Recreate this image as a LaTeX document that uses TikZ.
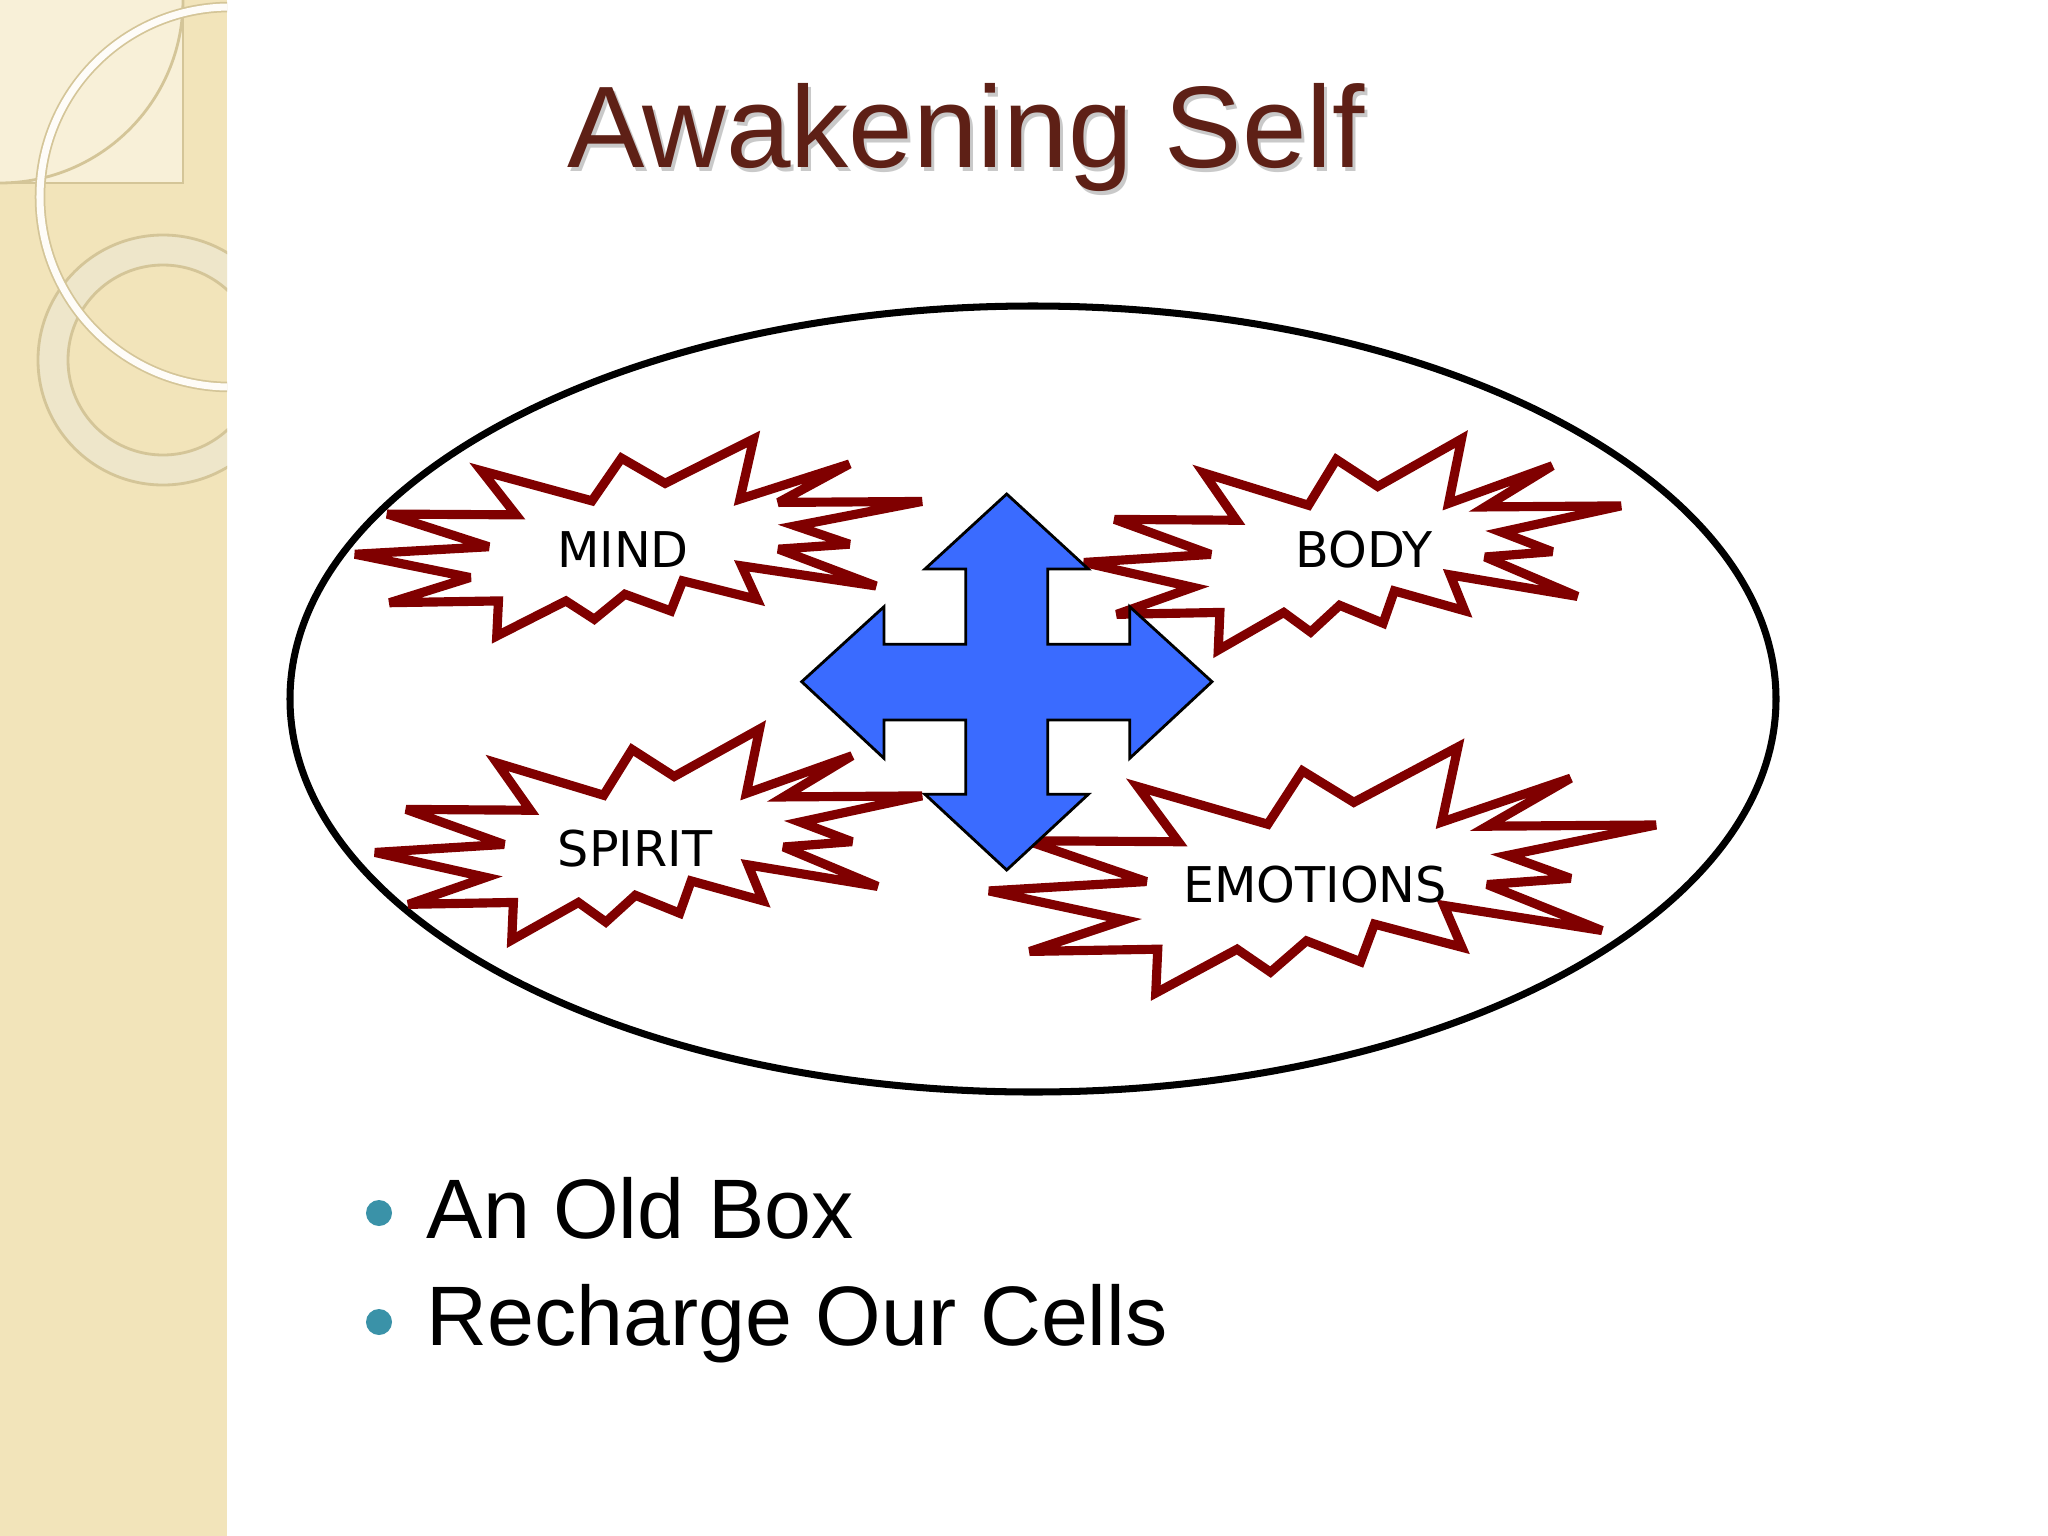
\documentclass[tikz,border=0pt]{standalone}
\usepackage{fontspec}
\setmainfont{Liberation Sans}
\newfontfamily\comicfont{DejaVu Sans}

\definecolor{titlered}{RGB}{94,32,22}
\definecolor{burstred}{RGB}{128,0,0}
\definecolor{arrowblue}{RGB}{58,107,255}
\definecolor{bulletteal}{RGB}{58,146,168}
\definecolor{stripbeige}{RGB}{242,228,186}
\definecolor{stripedge}{RGB}{212,197,152}
\definecolor{squarelight}{RGB}{248,240,216}
\definecolor{ringlight}{RGB}{238,230,202}

\tikzstyle{burst}=[draw=burstred,fill=white,line width=2.6pt,line join=miter,miter limit=4]
\tikzstyle{word}=[font=\comicfont\fontsize{14}{16}\selectfont,inner sep=0pt]
\tikzstyle{heading}=[font=\fontsize{33}{40}\selectfont,inner sep=0pt,anchor=base]
\tikzstyle{entry}=[font=\fontsize{24}{29}\selectfont,inner sep=0pt,anchor=base west]
\tikzstyle{bulletdot}=[circle,fill=bulletteal,inner sep=0pt,minimum size=0.26cm]
\tikzstyle{oval}=[draw=black,fill=white,line width=2pt]
\tikzstyle{arrowbody}=[draw=black,fill=arrowblue,line width=0.8pt,line join=miter]

\newcommand{\explosion}[4]{%
\begin{scope}[shift={(#1,#2)},xscale=#3,yscale=#4]
\draw[burst] (0,0.585) -- (0.236,0.547) -- (0.057,0.381) -- (0.284,0.385) -- (0.223,0.161)
 -- (0.418,0.314) -- (0.470,0.097) -- (0.547,0.225) -- (0.703,0) -- (0.679,0.305)
 -- (0.872,0.127) -- (0.747,0.322) -- (1,0.317) -- (0.777,0.441) -- (0.872,0.534)
 -- (0.747,0.559) -- (0.919,0.746) -- (0.682,0.644) -- (0.709,0.814) -- (0.578,0.720)
 -- (0.557,0.873) -- (0.476,0.788) -- (0.422,0.915) -- (0.372,0.822) -- (0.25,1)
 -- (0.253,0.822) -- (0.061,0.831) -- (0.203,0.703) -- cycle;
\end{scope}}

\begin{document}
\begin{tikzpicture}[x=0.01cm,y=-0.01cm]
\useasboundingbox (0,0) rectangle (2048,1536);
\fill[white] (0,0) rectangle (2048,1536);

\begin{scope}
\clip (0,0) rectangle (227,1536);
\fill[stripbeige] (0,0) rectangle (227,1536);
\fill[squarelight] (0,0) rectangle (183,183);
\draw[stripedge,line width=0.6pt] (183,0) -- (183,183) -- (0,183);
\draw[stripedge,line width=0.8pt] (183,0) arc (0:90:183);
\fill[ringlight,even odd rule] (163,360) circle (125) (163,360) circle (95);
\draw[stripedge,line width=0.8pt] (163,360) circle (125) (163,360) circle (95);
\draw[stripedge,line width=3pt] (230,197) circle (190);
\draw[white!90!stripbeige,line width=2pt] (230,197) circle (190);
\end{scope}

\node[heading,text=black!35,opacity=0.6] (shadow) at (969,171) {Awakening Self};
\node[heading,text=titlered] (title) at (966,167) {Awakening Self};

\draw[oval] (1033,699) ellipse (743 and 393);

\explosion{355}{439}{567}{197}
\explosion{1084}{439}{537}{211}
\explosion{375}{729}{547}{211}
\explosion{989}{747}{667}{246}

\draw[arrowbody] (1006.7,494) -- (1088.3,569) -- (1047.7,569) -- (1047.7,644.3)
 -- (1129.7,644.3) -- (1129.7,606.7) -- (1212,681.7) -- (1129.7,758.3) -- (1129.7,720)
 -- (1047.7,720) -- (1047.7,794.3) -- (1088.3,794.3) -- (1006.7,870) -- (925,794.3)
 -- (965.7,794.3) -- (965.7,720) -- (884,720) -- (884,758.3) -- (801.7,681.7)
 -- (884,606.7) -- (884,644.3) -- (965.7,644.3) -- (965.7,569) -- (925,569) -- cycle;

\node [word] (mind) at (623,550) {MIND};
\node [word] (body) at (1364,550) {BODY};
\node [word] (spirit) at (635,849) {SPIRIT};
\node [word] (emotions) at (1315,885) {EMOTIONS};

\node [bulletdot] (dotone) at (379,1213) {};
\node [bulletdot] (dottwo) at (379,1322) {};
\node [entry] (oldbox) at (426,1238) {An Old Box};
\node [entry] (recharge) at (426,1345) {Recharge Our Cells};
\end{tikzpicture}
\end{document}
